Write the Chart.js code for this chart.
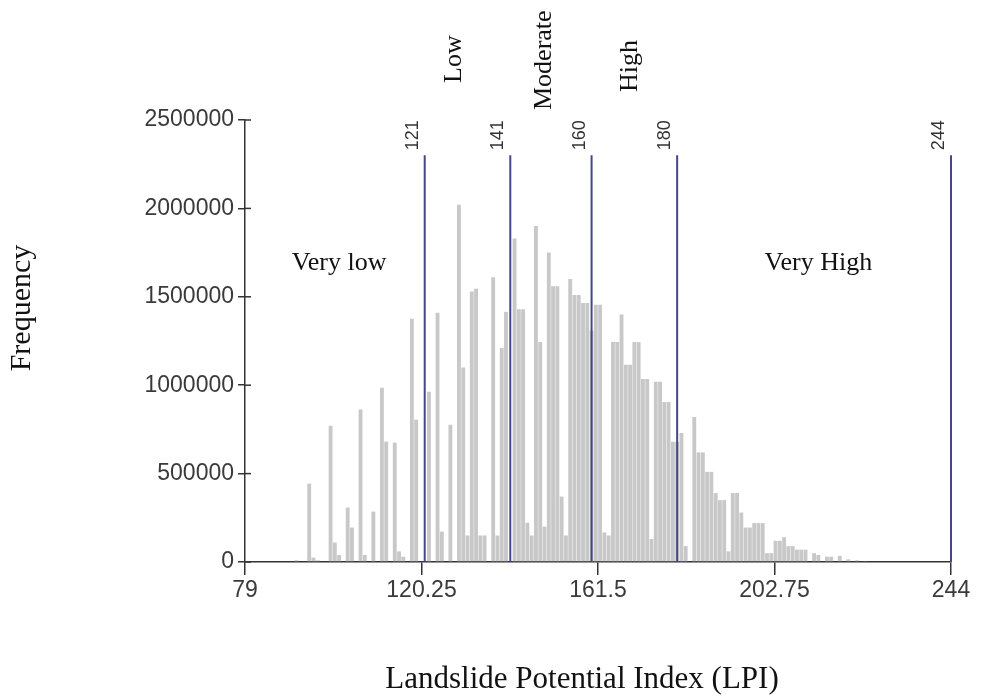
<!DOCTYPE html>
<html>
<head>
<meta charset="utf-8">
<style>
html,body{margin:0;padding:0;background:#fff}
#wrap{width:993px;height:700px;position:relative}
</style>
<script src="https://cdn.jsdelivr.net/npm/chart.js@4.4.1/dist/chart.umd.min.js"></script>
</head>
<body>
<div id="wrap"><canvas id="c"></canvas></div>
<script>
// LPI bin values (only non-empty bins) and their pixel-count frequencies
const lpiBins = [91,94,95,96,99,100,101,103,104,106,107,109,111,112,114,115,116,118,119,
  122,124,125,127,129,130,131,132,133,134,135,137,138,139,140,
  142,143,144,145,146,147,148,149,150,151,152,153,154,155,156,157,158,159,160,
  161,162,163,164,165,166,167,168,169,170,171,172,173,174,175,176,177,178,179,180,
  181,182,184,185,186,187,188,189,190,191,192,193,194,195,196,197,198,199,200,
  201,202,203,204,205,206,207,208,209,210,212,213,215,216,218,220,222,224];
const frequencies = [10000,443000,25000,10000,771000,110000,40000,308000,195000,862000,40000,285000,986000,681000,675000,60000,30000,1376000,805000,
  963000,1410000,172000,777000,2020000,1100000,150000,1530000,1545000,150000,150000,1610000,150000,1210000,1415000,
  1830000,1430000,1430000,222000,150000,1900000,1245000,200000,1750000,1560000,1560000,370000,150000,1600000,1510000,1510000,1465000,1465000,1310000,
  1455000,1455000,167000,150000,1245000,1245000,1400000,1115000,1115000,1245000,1245000,1035000,1035000,130000,1020000,1020000,905000,905000,680000,680000,
  730000,90000,820000,620000,620000,510000,510000,390000,350000,350000,60000,390000,390000,280000,195000,195000,220000,220000,220000,
  50000,50000,120000,120000,140000,90000,90000,70000,70000,70000,50000,40000,30000,30000,35000,15000,10000,5000];
const xTickValues = [79, 120.25, 161.5, 202.75, 244];
const yTickValues = [0, 500000, 1000000, 1500000, 2000000, 2500000];
const classBreaks = [121, 141, 160, 180, 244];
const breakLineTop = 2300000;
const classNames = ['Very low', 'Low', 'Moderate', 'High', 'Very High'];
const classLabelLpi = [101, 128, 149, 169, 213];
const xTitle = 'Landslide Potential Index (LPI)';
const yTitle = 'Frequency';

const serif = '"Liberation Serif", "Times New Roman", serif';
const sans = '"Liberation Sans", Arial, sans-serif';

const overlay = {
  id: 'overlay',
  afterDatasetsDraw(chart) {
    const ctx = chart.ctx;
    const xs = chart.scales.x, ys = chart.scales.y;
    ctx.save();
    // y tick marks crossing to the right of axis
    ctx.strokeStyle = '#333'; ctx.lineWidth = 1.5;
    yTickValues.forEach(v => {
      const y = ys.getPixelForValue(v);
      ctx.beginPath(); ctx.moveTo(xs.left, y); ctx.lineTo(xs.left + 6, y); ctx.stroke();
    });
    // class break lines
    ctx.strokeStyle = '#46468a'; ctx.lineWidth = 2;
    const yTop = ys.getPixelForValue(breakLineTop);
    const y0 = ys.getPixelForValue(0);
    classBreaks.forEach(b => {
      const x = xs.getPixelForValue(b);
      ctx.beginPath(); ctx.moveTo(x, y0); ctx.lineTo(x, yTop); ctx.stroke();
      ctx.save();
      ctx.translate(x - 12, yTop - 5);
      ctx.rotate(-Math.PI / 2);
      ctx.font = '18px ' + sans; ctx.fillStyle = '#333';
      ctx.textAlign = 'left'; ctx.textBaseline = 'middle';
      ctx.fillText(String(b), 0, 0);
      ctx.restore();
    });
    // class names
    ctx.fillStyle = '#111';
    ctx.font = '26px ' + serif;
    ctx.textAlign = 'center'; ctx.textBaseline = 'middle';
    ctx.fillText(classNames[0], xs.getPixelForValue(classLabelLpi[0]), 263);
    ctx.fillText(classNames[4], xs.getPixelForValue(classLabelLpi[4]), 263);
    const rotBottoms = [83, 110, 92];
    [1, 2, 3].forEach((k, i) => {
      ctx.save();
      ctx.translate(xs.getPixelForValue(classLabelLpi[k]), rotBottoms[i]);
      ctx.rotate(-Math.PI / 2);
      ctx.textAlign = 'left';
      ctx.fillText(classNames[k], 0, 0);
      ctx.restore();
    });
    // axis titles
    ctx.font = '31px ' + serif;
    ctx.textAlign = 'center';
    ctx.fillText(xTitle, 582, 680);
    ctx.save();
    ctx.translate(22, 308);
    ctx.rotate(-Math.PI / 2);
    ctx.font = '30px ' + serif;
    ctx.fillText(yTitle, 0, 0);
    ctx.restore();
    ctx.restore();
  }
};

new Chart(document.getElementById('c'), {
  type: 'bar',
  data: {
    datasets: [{
      data: lpiBins.map((b, i) => ({ x: b, y: frequencies[i] })),
      backgroundColor: '#c8c8c8',
      borderWidth: 0,
      barPercentage: 0.9,
      categoryPercentage: 1
    }]
  },
  options: {
    responsive: true,
    maintainAspectRatio: false,
    animation: false,
    devicePixelRatio: 1,
    layout: { padding: { left: 0, right: 42, top: 120, bottom: 0 } },
    plugins: { legend: { display: false }, tooltip: { enabled: false } },
    scales: {
      x: {
        type: 'linear', min: 79, max: 244, offset: false,
        afterBuildTicks: s => { s.ticks = xTickValues.map(v => ({ value: v })); },
        afterFit: s => { s.height = 138; },
        ticks: {
          autoSkip: false, maxRotation: 0, padding: 2,
          font: { family: sans, size: 23 }, color: '#3a3a3a',
          callback: v => String(v)
        },
        grid: { offset: false, drawOnChartArea: false, drawTicks: true, tickLength: 13, color: '#333', lineWidth: 1.5 },
        border: { display: true, color: '#333', width: 1.5 }
      },
      y: {
        min: 0, max: 2500000,
        afterBuildTicks: s => { s.ticks = yTickValues.map(v => ({ value: v })); },
        afterFit: s => { s.width = 245; },
        ticks: {
          padding: 4, font: { family: sans, size: 23 }, color: '#3a3a3a',
          callback: v => String(v)
        },
        grid: { drawOnChartArea: false, drawTicks: true, tickLength: 7, color: '#333', lineWidth: 1.5 },
        border: { display: true, color: '#333', width: 1.5 }
      }
    }
  },
  plugins: [overlay]
});
</script>
</body>
</html>
